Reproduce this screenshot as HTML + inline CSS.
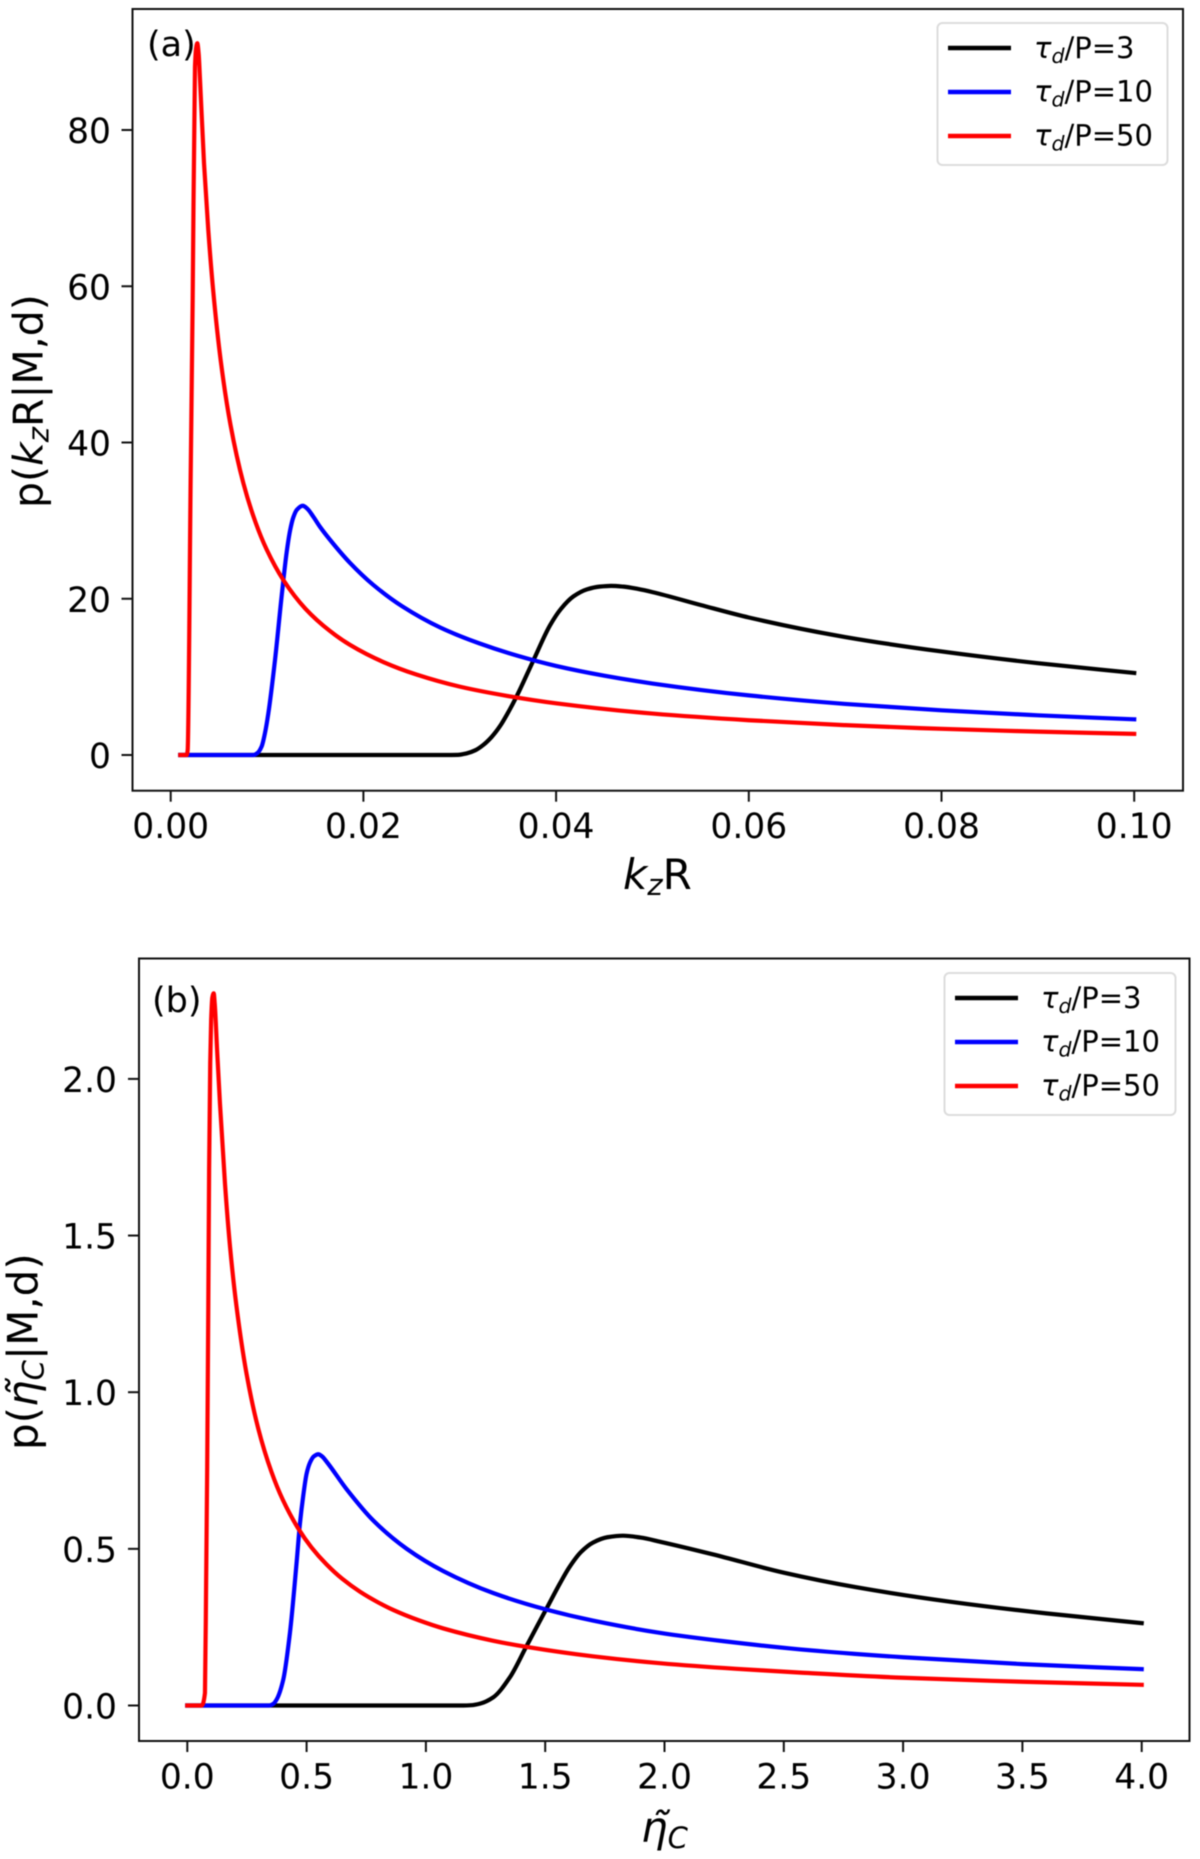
<!DOCTYPE html>
<html lang="en">
<head>
<meta charset="utf-8">
<title>Posterior distributions of kzR and eta_C</title>
<style>
html,body{margin:0;padding:0;background:#fff;}
body{width:1200px;height:1859px;overflow:hidden;}
svg{display:block;filter:blur(0.4px);}
text{font-family:"DejaVu Sans","Liberation Sans",sans-serif;fill:#000;}
</style>
</head>
<body>
<svg id="figure" width="1200" height="1859" viewBox="0 0 1200 1859" xmlns="http://www.w3.org/2000/svg">
  <rect x="0" y="0" width="1200" height="1859" fill="#fff"/>

  <g id="panel-a">
    <rect x="132.5" y="9" width="1050.5" height="781.7" fill="#fff" stroke="none"/>
    <g id="a-ticks"></g>
    <g id="a-series"></g>
    <rect x="132.5" y="9" width="1050.5" height="781.7" fill="none" stroke="#111" stroke-width="2"/>
    <text x="147" y="56" font-size="35">(a)</text>
    <text x="623" y="889" font-size="42"><tspan font-style="italic">k</tspan><tspan font-style="italic" font-size="29" dy="6">z</tspan><tspan dy="-6">R</tspan></text>
    <text transform="translate(42.5,508) rotate(-90)" font-size="41">p(<tspan font-style="italic">k</tspan><tspan font-style="italic" font-size="29" dy="6">z</tspan><tspan dy="-6">R|M,d)</tspan></text>
    <g>
      <rect x="937.5" y="23" width="230" height="142" rx="5" ry="5" fill="#fff" stroke="#dcdcdc" stroke-width="2"/>
      <line x1="948" y1="48" x2="1011" y2="48" stroke="#000" stroke-width="4.4"/>
      <line x1="948" y1="92" x2="1011" y2="92" stroke="#0000ff" stroke-width="4.4"/>
      <line x1="948" y1="136" x2="1011" y2="136" stroke="#ff0000" stroke-width="4.4"/>
      <text x="1034" y="58" font-size="29"><tspan font-style="italic">τ</tspan><tspan font-style="italic" font-size="20.5" dy="5">d</tspan><tspan dy="-5">/P=3</tspan></text>
      <text x="1034" y="101.5" font-size="29"><tspan font-style="italic">τ</tspan><tspan font-style="italic" font-size="20.5" dy="5">d</tspan><tspan dy="-5">/P=10</tspan></text>
      <text x="1034" y="145.5" font-size="29"><tspan font-style="italic">τ</tspan><tspan font-style="italic" font-size="20.5" dy="5">d</tspan><tspan dy="-5">/P=50</tspan></text>
    </g>
  </g>

  <g id="panel-b">
    <rect x="139" y="958.5" width="1050.5" height="782.5" fill="#fff" stroke="none"/>
    <g id="b-ticks"></g>
    <g id="b-series"></g>
    <rect x="139" y="958.5" width="1050.5" height="782.5" fill="none" stroke="#111" stroke-width="2"/>
    <text x="152" y="1012" font-size="35">(b)</text>
    <text x="641" y="1842" font-size="42"><tspan font-style="italic">η̃</tspan><tspan font-style="italic" font-size="29" dy="6">C</tspan></text>
    <text transform="translate(37.5,1450) rotate(-90)" font-size="42">p(<tspan font-style="italic">η̃</tspan><tspan font-style="italic" font-size="29" dy="6">C</tspan><tspan dy="-6">|M,d)</tspan></text>
    <g>
      <rect x="944.5" y="973" width="231" height="142" rx="5" ry="5" fill="#fff" stroke="#dcdcdc" stroke-width="2"/>
      <line x1="955" y1="998" x2="1018" y2="998" stroke="#000" stroke-width="4.4"/>
      <line x1="955" y1="1042" x2="1018" y2="1042" stroke="#0000ff" stroke-width="4.4"/>
      <line x1="955" y1="1086" x2="1018" y2="1086" stroke="#ff0000" stroke-width="4.4"/>
      <text x="1041" y="1008" font-size="29"><tspan font-style="italic">τ</tspan><tspan font-style="italic" font-size="20.5" dy="5">d</tspan><tspan dy="-5">/P=3</tspan></text>
      <text x="1041" y="1051.5" font-size="29"><tspan font-style="italic">τ</tspan><tspan font-style="italic" font-size="20.5" dy="5">d</tspan><tspan dy="-5">/P=10</tspan></text>
      <text x="1041" y="1095.5" font-size="29"><tspan font-style="italic">τ</tspan><tspan font-style="italic" font-size="20.5" dy="5">d</tspan><tspan dy="-5">/P=50</tspan></text>
    </g>
  </g>
</svg>

<script>
// Panel (a) data: kzR
const aXTicks = [0, 0.02, 0.04, 0.06, 0.08, 0.10];
const aXTickLabels = ["0.00", "0.02", "0.04", "0.06", "0.08", "0.10"];
const aYTicks = [0, 20, 40, 60, 80];
const aYTickLabels = ["0", "20", "40", "60", "80"];
const aBlackX = [0.001, 0.01, 0.02, 0.0285, 0.0298, 0.0307, 0.0316, 0.03245, 0.0333, 0.03418, 0.035, 0.0359, 0.03764, 0.03937, 0.0405, 0.0418, 0.0432, 0.0445, 0.0457, 0.047, 0.0485, 0.05, 0.055, 0.06, 0.07, 0.08, 0.09, 0.10];
const aBlackY = [0, 0, 0, 0, 0.02, 0.2, 0.6, 1.3, 2.3, 3.7, 5.4, 7.5, 12.1, 16.6, 18.7, 20.3, 21.2, 21.55, 21.65, 21.55, 21.25, 20.85, 19.2, 17.6, 15.1, 13.25, 11.75, 10.5];
const aBlueX = [0.001, 0.005, 0.0086, 0.009, 0.00944, 0.0098, 0.01013, 0.01082, 0.01152, 0.01204, 0.0124, 0.01272, 0.0131, 0.0137, 0.0142, 0.0148, 0.0155, 0.0165, 0.0186, 0.021, 0.024, 0.028, 0.032, 0.036, 0.04, 0.045, 0.05, 0.06, 0.07, 0.08, 0.09, 0.10];
const aBlueY = [0, 0, 0, 0.25, 1.1, 2.9, 5.3, 12.1, 20.4, 26.0, 28.8, 30.4, 31.4, 31.9, 31.5, 30.5, 29.2, 27.6, 24.6, 21.8, 19.05, 16.3, 14.3, 12.7, 11.4, 10.15, 9.15, 7.63, 6.54, 5.72, 5.08, 4.57];
const aRedX = [0.001, 0.00166, 0.00176, 0.00207, 0.00228, 0.00252, 0.00264, 0.00276, 0.0029, 0.00304, 0.00346, 0.0039, 0.00442, 0.0052, 0.0062, 0.00754, 0.0088, 0.00996, 0.01169, 0.014, 0.0165, 0.0186, 0.02207, 0.0255, 0.03, 0.035, 0.04, 0.05, 0.06, 0.07, 0.08, 0.09, 0.10];
const aRedY = [0, 0, 0.6, 35.2, 58.2, 88.1, 90.5, 91.1, 89.8, 86.5, 75.7, 67.2, 59.3, 50.4, 42.3, 34.8, 29.8, 26.3, 22.4, 18.7, 15.9, 14.1, 11.9, 10.3, 8.75, 7.55, 6.62, 5.3, 4.45, 3.82, 3.35, 2.99, 2.7];

// Panel (b) data: eta_C
const bXTicks = [0, 0.5, 1, 1.5, 2, 2.5, 3, 3.5, 4];
const bXTickLabels = ["0.0", "0.5", "1.0", "1.5", "2.0", "2.5", "3.0", "3.5", "4.0"];
const bYTicks = [0, 0.5, 1, 1.5, 2];
const bYTickLabels = ["0.0", "0.5", "1.0", "1.5", "2.0"];
const bBlackX = [0, 0.5, 1.0, 1.157, 1.19, 1.227, 1.282, 1.352, 1.422, 1.506, 1.562, 1.6, 1.65, 1.7, 1.76, 1.826, 1.9, 1.98, 2.2, 2.5, 2.8, 3.2, 3.6, 4.0];
const bBlackY = [0, 0, 0, 0, 0.001, 0.006, 0.026, 0.09, 0.19, 0.31, 0.39, 0.44, 0.49, 0.52, 0.537, 0.542, 0.536, 0.523, 0.483, 0.424, 0.378, 0.331, 0.294, 0.263];
const bBlueX = [0, 0.2, 0.344, 0.36, 0.375, 0.402, 0.43, 0.4585, 0.472, 0.486, 0.5, 0.514, 0.53, 0.549, 0.565, 0.584, 0.668, 0.78, 0.92, 1.073, 1.282, 1.506, 1.7, 1.98, 2.25, 2.57, 3.0, 3.5, 4.0];
const bBlueY = [0, 0, 0, 0.005, 0.02, 0.082, 0.231, 0.46, 0.58, 0.67, 0.74, 0.775, 0.795, 0.802, 0.795, 0.778, 0.69, 0.59, 0.5, 0.429, 0.359, 0.306, 0.271, 0.232, 0.205, 0.179, 0.154, 0.132, 0.116];
const bRedX = [0, 0.06, 0.074, 0.079, 0.0834, 0.088, 0.0914, 0.096, 0.1, 0.105, 0.1106, 0.115, 0.125, 0.137, 0.158, 0.179, 0.206, 0.248, 0.297, 0.353, 0.4, 0.465, 0.52, 0.584, 0.65, 0.724, 0.8, 0.863, 0.97, 1.073, 1.28, 1.43, 1.7, 1.98, 2.3, 2.57, 3.0, 3.5, 4.0];
const bRedY = [0, 0, 0.04, 0.4, 0.762, 1.28, 1.71, 2.05, 2.19, 2.26, 2.273, 2.24, 2.09, 1.92, 1.665, 1.465, 1.275, 1.06, 0.885, 0.745, 0.657, 0.565, 0.505, 0.45, 0.404, 0.363, 0.329, 0.305, 0.272, 0.246, 0.207, 0.186, 0.157, 0.135, 0.117, 0.105, 0.0885, 0.0758, 0.066];

const SVG_NS = "http://www.w3.org/2000/svg";

// Axis functions
function aXScale(v) { return 170.7 + v * 9635; }
function aYScale(v) { return 755 - v * 7.8125; }
function bXScale(v) { return 187.3 + v * 238.6; }
function bYScale(v) { return 1705.5 - v * 313.3; }

// Monotone cubic path through points, so curves stay smooth with no overshoot
function curvePath(xs, ys, sx, sy) {
  const px = xs.map(sx);
  const py = ys.map(sy);
  const n = px.length;
  const slope = [];
  for (let i = 0; i < n - 1; i++) {
    slope.push((py[i + 1] - py[i]) / (px[i + 1] - px[i]));
  }
  const tan = [slope[0]];
  for (let i = 1; i < n - 1; i++) {
    if (slope[i - 1] * slope[i] <= 0) {
      tan.push(0);
    } else {
      const h0 = px[i] - px[i - 1];
      const h1 = px[i + 1] - px[i];
      const w1 = 2 * h1 + h0;
      const w2 = h1 + 2 * h0;
      tan.push((w1 + w2) / (w1 / slope[i - 1] + w2 / slope[i]));
    }
  }
  tan.push(slope[n - 2]);
  let d = "M" + px[0].toFixed(2) + " " + py[0].toFixed(2);
  for (let i = 0; i < n - 1; i++) {
    const h = (px[i + 1] - px[i]) / 3;
    d += "C" + (px[i] + h).toFixed(2) + " " + (py[i] + tan[i] * h).toFixed(2) + " " +
         (px[i + 1] - h).toFixed(2) + " " + (py[i + 1] - tan[i + 1] * h).toFixed(2) + " " +
         px[i + 1].toFixed(2) + " " + py[i + 1].toFixed(2);
  }
  return d;
}

function drawSeries(parentId, name, xs, ys, sx, sy, color) {
  const el = document.createElementNS(SVG_NS, "path");
  el.setAttribute("d", curvePath(xs, ys, sx, sy));
  el.setAttribute("fill", "none");
  el.setAttribute("stroke", color);
  el.setAttribute("stroke-width", "4.2");
  el.setAttribute("stroke-linecap", "square");
  el.setAttribute("stroke-linejoin", "round");
  
  
  document.getElementById(parentId).appendChild(el);
}

function drawXTicks(parentId, prefix, ticks, labels, sx, axisY, baseline) {
  const parent = document.getElementById(parentId);
  ticks.forEach(function (t, i) {
    const line = document.createElementNS(SVG_NS, "line");
    line.setAttribute("x1", sx(t));
    line.setAttribute("x2", sx(t));
    line.setAttribute("y1", axisY);
    line.setAttribute("y2", axisY + 11);
    line.setAttribute("stroke", "#111");
    line.setAttribute("stroke-width", "2");
    
    
    parent.appendChild(line);
    const text = document.createElementNS(SVG_NS, "text");
    text.setAttribute("x", sx(t));
    text.setAttribute("y", baseline);
    text.setAttribute("font-size", "34.5");
    text.setAttribute("text-anchor", "middle");
    
    
    text.textContent = labels[i];
    parent.appendChild(text);
  });
}

function drawYTicks(parentId, prefix, ticks, labels, sy, axisX, labelRight) {
  const parent = document.getElementById(parentId);
  ticks.forEach(function (t, i) {
    const line = document.createElementNS(SVG_NS, "line");
    line.setAttribute("x1", axisX - 11);
    line.setAttribute("x2", axisX);
    line.setAttribute("y1", sy(t));
    line.setAttribute("y2", sy(t));
    line.setAttribute("stroke", "#111");
    line.setAttribute("stroke-width", "2");
    
    
    parent.appendChild(line);
    const text = document.createElementNS(SVG_NS, "text");
    text.setAttribute("x", labelRight);
    text.setAttribute("y", sy(t) + 13);
    text.setAttribute("font-size", "34.5");
    text.setAttribute("text-anchor", "end");
    
    
    text.textContent = labels[i];
    parent.appendChild(text);
  });
}

drawXTicks("a-ticks", "panel-a", aXTicks, aXTickLabels, aXScale, 790.7, 838);
drawYTicks("a-ticks", "panel-a", aYTicks, aYTickLabels, aYScale, 132.5, 111);
drawSeries("a-series", "curve-a-tau-3", aBlackX, aBlackY, aXScale, aYScale, "#000000");
drawSeries("a-series", "curve-a-tau-10", aBlueX, aBlueY, aXScale, aYScale, "#0000ff");
drawSeries("a-series", "curve-a-tau-50", aRedX, aRedY, aXScale, aYScale, "#ff0000");

drawXTicks("b-ticks", "panel-b", bXTicks, bXTickLabels, bXScale, 1741, 1788.5);
drawYTicks("b-ticks", "panel-b", bYTicks, bYTickLabels, bYScale, 139, 117);
drawSeries("b-series", "curve-b-tau-3", bBlackX, bBlackY, bXScale, bYScale, "#000000");
drawSeries("b-series", "curve-b-tau-10", bBlueX, bBlueY, bXScale, bYScale, "#0000ff");
drawSeries("b-series", "curve-b-tau-50", bRedX, bRedY, bXScale, bYScale, "#ff0000");
</script>
</body>
</html>
